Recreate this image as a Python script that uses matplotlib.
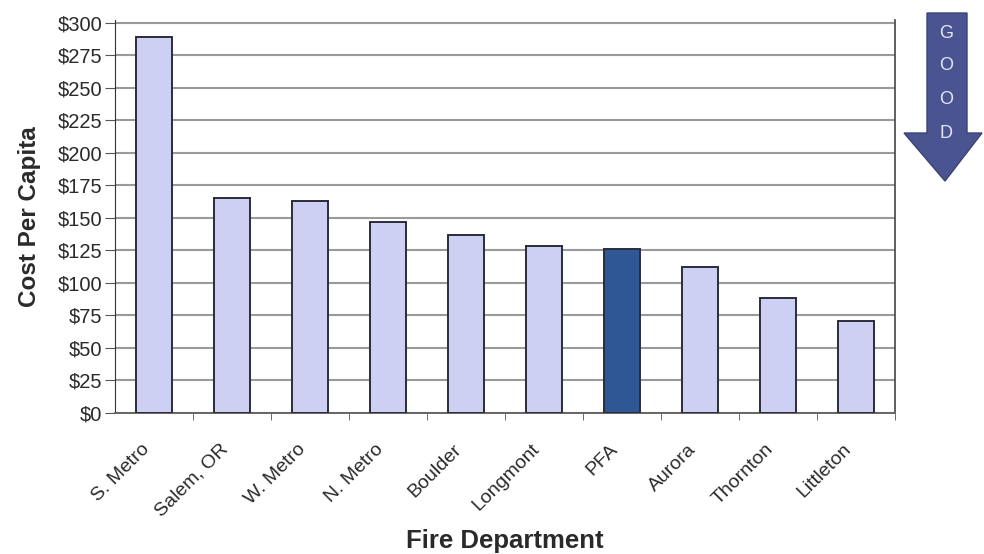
import matplotlib
matplotlib.use("Agg")
import matplotlib.pyplot as plt
from matplotlib.patches import Polygon
import matplotlib.transforms as mtransforms

plt.rcParams['font.family'] = ['Liberation Sans', 'DejaVu Sans']

departments = ["S. Metro", "Salem, OR", "W. Metro", "N. Metro", "Boulder",
               "Longmont", "PFA", "Aurora", "Thornton", "Littleton"]
cost_per_capita = [289, 165, 163, 147, 137, 128, 126, 112, 88, 71]
highlight = "PFA"
y_ticks = list(range(0, 301, 25))
y_tick_labels = [f"${v}" for v in y_ticks]

fig = plt.figure(figsize=(9.84, 5.54), dpi=100)
ax = fig.add_axes([115/984, 1 - 413/554, 780/984, (413 - 20)/554])

colors = ["#2f5793" if d == highlight else "#cdd0f2" for d in departments]
x = list(range(len(departments)))
ax.bar(x, cost_per_capita, width=0.46, color=colors, edgecolor="#2b2b3a",
       linewidth=1.4, zorder=3)

ax.set_xlim(-0.5, len(departments) - 0.5)
ax.set_ylim(0, 302)
ax.set_yticks(y_ticks)
ax.set_yticklabels(y_tick_labels, fontsize=14.5, color="#2a2a2a")
ax.yaxis.grid(True, color="#9a9a9a", linewidth=1.5, zorder=0)
ax.set_axisbelow(True)

ax.set_xticks(x)
ax.set_xticklabels(departments, rotation=45, ha="right", rotation_mode="anchor",
                   fontsize=14, color="#2a2a2a")
ax.set_xticks([i + 0.5 for i in x], minor=True)
ax.tick_params(axis="x", which="major", length=0, pad=20)
ax.tick_params(axis="x", which="minor", length=5, direction="out", color="#555555")
ax.tick_params(axis="y", length=7, color="#555555", pad=2)

offset = mtransforms.ScaledTranslation(-13 / 100, 0, fig.dpi_scale_trans)
for lbl in ax.get_xticklabels():
    lbl.set_transform(lbl.get_transform() + offset)

ax.spines["top"].set_visible(False)
ax.spines["left"].set_color("#333333")
ax.spines["bottom"].set_color("#666666")
ax.spines["bottom"].set_linewidth(1.4)
ax.spines["right"].set_color("#444444")
ax.spines["right"].set_linewidth(1.2)

ax.set_ylabel("Cost Per Capita", fontsize=17.5, fontweight="bold", labelpad=12,
              color="#2a2a2a")
ax.set_xlabel("Fire Department", fontsize=18.5, fontweight="bold", labelpad=6,
              color="#2a2a2a")

# GOOD arrow
def fx(px):
    return px / 984
def fy(py):
    return 1 - py / 554

arrow = Polygon([(fx(927), fy(13)), (fx(967), fy(13)), (fx(967), fy(133)),
                 (fx(982), fy(133)), (fx(945), fy(181)), (fx(904), fy(133)),
                 (fx(927), fy(133))], closed=True, transform=fig.transFigure,
                facecolor="#4a5490", edgecolor="#3a4278", linewidth=1)
fig.patches.append(arrow)
for ch, py in zip("GOOD", [33, 65, 100, 133]):
    fig.text(fx(946), fy(py), ch, ha="center", va="center",
             color="#e6e8f5", fontsize=13)

fig.savefig("out.png", dpi=100)
